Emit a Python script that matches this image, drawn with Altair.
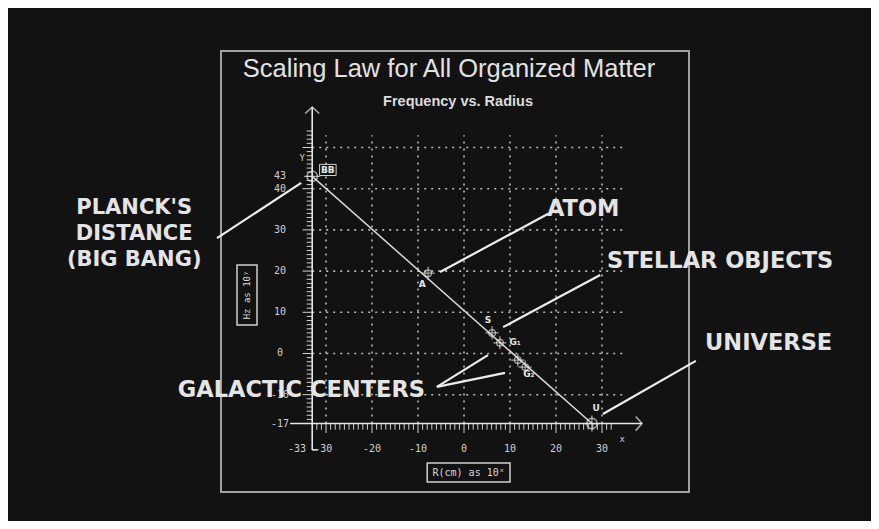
import altair as alt
import pandas as pd

# ---------------- values ----------------
point_names = ["BB", "A", "S", "G1", "G2a", "G2b", "U"]
point_x = [-33, -7.8, 6.1, 7.8, 11.7, 13.3, 27.8]
point_y = [43, 19.5, 5.0, 2.6, -1.6, -3.3, -17]
point_major = [True, False, False, False, False, False, True]

label_text = ["BB", "A", "S", "G₁", "G₂", "U"]

trend_x = [-33, 27.8]
trend_y = [43, -17]

y_tick_labels = ["43", "40", "30", "20", "10", "0", "-10", "-17"]
y_tick_values = [43, 40, 30, 20, 10, 0, -10, -17]
x_tick_labels = ["-33", "-30", "-20", "-10", "0", "10", "20", "30"]
x_tick_values = [-33, -30, -20, -10, 0, 10, 20, 30]

grid_x_values = [-30, -20, -10, 0, 10, 20, 30]
grid_y_values = [-10, 0, 10, 20, 30, 40, 50]

annotation_text = ["PLANCK'S", "DISTANCE", "(BIG BANG)", "ATOM",
                   "STELLAR OBJECTS", "UNIVERSE", "GALACTIC CENTERS"]

title_text = "Scaling Law for All Organized Matter"
subtitle_text = "Frequency vs. Radius"
x_title_text = "R(cm) as 10ˣ"
y_title_text = "Hz as 10ʸ"

# ---------------- layout (positions in data units) ----------------
label_x = [-29.6, -9.1, 5.2, 11.1, 14.1, 28.7]
label_y = [44.5, 16.9, 8.1, 2.8, -5.0, -13.2]
x_label_pos = [-36.3, -30.6, -20, -10, 0, 10, 20, 30]
x_label_y = -23.2
y_label_x = -40.0

ann_x = [-71.7, -71.7, -71.7, 25.9, 31.1, 52.4, -8.5]
ann_y = [35.3, 29.0, 22.6, 35.1, 22.45, 2.55, -8.86]
ann_align = ["center", "center", "center", "center", "left", "left", "right"]
ann_group = ["planck", "planck", "planck", "other", "other", "other", "other"]

leader = pd.DataFrame({
    "x": [-53.7, -5.2, 8.5, -5.9, -5.9, 30.2],
    "y": [28.0, 19.8, 6.4, -8.1, -8.1, -14.7],
    "x2": [-35.4, 18.3, 29.6, 5.2, 8.9, 50.4],
    "y2": [41.4, 33.9, 19.05, -0.4, -4.7, -1.8],
})

XS = alt.Scale(domain=[-52.83, 48.91], nice=False, zero=False)
YS = alt.Scale(domain=[-33.62, 73.42], nice=False, zero=False)
GRID = "#b8b8b8"
INK = "#e6e6e6"


def X(f="x"):
    return alt.X(f"{f}:Q", scale=XS, axis=None)


def Y(f="y"):
    return alt.Y(f"{f}:Q", scale=YS, axis=None)


# grid
gv = pd.DataFrame({"x": grid_x_values, "y": -17, "y2": 53})
gh = pd.DataFrame({"y": grid_y_values, "x": -33, "x2": 35})
grid_v = alt.Chart(gv).mark_rule(color=GRID, strokeWidth=1.6, strokeDash=[2, 5]).encode(
    x=X(), y=Y(), y2="y2:Q")
grid_h = alt.Chart(gh).mark_rule(color=GRID, strokeWidth=1.6, strokeDash=[2, 5]).encode(
    y=Y(), x=X(), x2="x2:Q")

# axis lines
axes_df = pd.DataFrame({
    "x": [-33, -37.8, -33],
    "y": [-23.4, -17, -23.4],
    "x2": [-33, 38.7, -31.8],
    "y2": [59.8, -17, -23.4],
})
axes = alt.Chart(axes_df).mark_rule(color=INK, strokeWidth=1.6).encode(
    x=X(), y=Y(), x2="x2:Q", y2="y2:Q")

# minor / major ticks
yt = pd.DataFrame({"y": list(range(-16, 55))})
yt["x"] = -33
yt["x2"] = [-35.1 if v % 10 == 0 else -34.2 for v in yt["y"]]
yticks = alt.Chart(yt).mark_rule(color="#d0d0d0", strokeWidth=1).encode(
    y=Y(), x=X(), x2="x2:Q")
xt = pd.DataFrame({"x": list(range(-32, 33))})
xt["y"] = -17
xt["y2"] = [-19.3 if v % 10 == 0 else -18.5 for v in xt["x"]]
xticks = alt.Chart(xt).mark_rule(color="#d0d0d0", strokeWidth=1).encode(
    x=X(), y=Y(), y2="y2:Q")

# arrow heads
arr_up = alt.Chart(pd.DataFrame({"x": [-33], "y": [59.8]})).mark_point(
    shape="M-1,0.9L0,0L1,0.9", size=200, filled=False, color=INK, strokeWidth=1.6
).encode(x=X(), y=Y())
arr_right = alt.Chart(pd.DataFrame({"x": [38.7], "y": [-17]})).mark_point(
    shape="M-0.9,-1L0,0L-0.9,1", size=200, filled=False, color=INK, strokeWidth=1.6
).encode(x=X(), y=Y())

# axis letters
axis_letters = alt.Chart(pd.DataFrame({"t": ["Y", "x"], "x": [-35.2, 34.4], "y": [47.4, -20.8]})).mark_text(
    font="DejaVu Sans Mono", fontSize=9, color="#cfcfcf").encode(x=X(), y=Y(), text="t:N")

# trend line
trend = alt.Chart(pd.DataFrame({"x": trend_x, "y": trend_y})).mark_line(
    color="#d8d8d8", strokeWidth=1.5).encode(x=X(), y=Y())

pts = pd.DataFrame({"name": point_names, "x": point_x, "y": point_y, "major": point_major})
big = pts[pts["major"]]
small = pts[~pts["major"]]
circ_big = alt.Chart(big).mark_point(shape="circle", size=110, filled=False, color=INK,
                                     strokeWidth=1.4).encode(x=X(), y=Y())
plus_big = alt.Chart(big).mark_point(shape="M-1,0L1,0M0,-1L0,1", size=260, filled=False,
                                     color=INK, strokeWidth=1.3).encode(x=X(), y=Y())
circ_small = alt.Chart(small).mark_point(shape="circle", size=45, filled=False, color=INK,
                                         strokeWidth=1.2).encode(x=X(), y=Y())
plus_small = alt.Chart(small).mark_point(shape="M-1,0L1,0M0,-1L0,1", size=170, filled=False,
                                         color=INK, strokeWidth=1.2).encode(x=X(), y=Y())

labels = alt.Chart(pd.DataFrame({"t": label_text, "x": label_x, "y": label_y})).mark_text(
    font="DejaVu Sans", fontSize=9, fontWeight="bold", color=INK).encode(x=X(), y=Y(), text="t:N")
bb_box = alt.Chart(pd.DataFrame({"x": [-31.4], "x2": [-27.8], "y": [45.9], "y2": [43.2]})).mark_rect(
    fill=None, stroke="#cfcfcf", strokeWidth=1).encode(x=X(), x2="x2:Q", y=Y(), y2="y2:Q")

# tick labels
ytl = alt.Chart(pd.DataFrame({"t": y_tick_labels, "y": y_tick_values, "x": y_label_x})).mark_text(
    font="DejaVu Sans Mono", fontSize=10, color="#cfcfcf").encode(x=X(), y=Y(), text="t:N")
xtl = alt.Chart(pd.DataFrame({"t": x_tick_labels, "x": x_label_pos, "y": x_label_y})).mark_text(
    font="DejaVu Sans Mono", fontSize=10, color="#cfcfcf").encode(x=X(), y=Y(), text="t:N")

# axis title boxes
boxes = alt.Chart(pd.DataFrame({"x": [-8.0, -49.35], "x2": [10.0, -45.0],
                                "y": [-26.6, 21.5], "y2": [-31.2, 6.9]})).mark_rect(
    fill=None, stroke="#cfcfcf", strokeWidth=1.5).encode(x=X(), x2="x2:Q", y=Y(), y2="y2:Q")
xtitle = alt.Chart(pd.DataFrame({"t": [x_title_text], "x": [1.0], "y": [-28.9]})).mark_text(
    font="DejaVu Sans Mono", fontSize=10, color="#d8d8d8").encode(x=X(), y=Y(), text="t:N")
ytitle = alt.Chart(pd.DataFrame({"t": [y_title_text], "x": [-47.2], "y": [14.2]})).mark_text(
    font="DejaVu Sans Mono", fontSize=9, angle=270, color="#d8d8d8").encode(x=X(), y=Y(), text="t:N")

# annotations
leaders = alt.Chart(leader).mark_rule(color="#eeeeee", strokeWidth=2.2).encode(
    x=X(), y=Y(), x2="x2:Q", y2="y2:Q")
ann_df = pd.DataFrame({"t": annotation_text, "x": ann_x, "y": ann_y, "a": ann_align,
                       "g": ann_group})
ann_layers = []
for g, fs in [("planck", 21), ("other", 22.5)]:
    for a in ["center", "left", "right"]:
        sub = ann_df[(ann_df["a"] == a) & (ann_df["g"] == g)]
        if len(sub) == 0:
            continue
        ann_layers.append(
            alt.Chart(sub).mark_text(
                font="DejaVu Sans", fontSize=fs, fontWeight="bold", color="#e4e4e4",
                align=a, baseline="middle").encode(x=X(), y=Y(), text="t:N"))

title = alt.Chart(pd.DataFrame({"t": [title_text]})).mark_text(
    font="Liberation Sans", fontSize=25.5, color="#e2e2e2").encode(
    x=alt.value(228), y=alt.value(18), text="t:N")
subtitle = alt.Chart(pd.DataFrame({"t": [subtitle_text]})).mark_text(
    font="Liberation Sans", fontSize=14.5, fontWeight="bold", color="#dcdcdc").encode(
    x=alt.value(237), y=alt.value(51), text="t:N")

chart = alt.layer(
    grid_v, grid_h, yticks, xticks, axes, arr_up, arr_right, axis_letters, trend,
    circ_big, plus_big, circ_small, plus_small, bb_box, labels, ytl, xtl, boxes,
    xtitle, ytitle, leaders, *ann_layers, title, subtitle
).properties(
    width=468, height=441,
    padding={"left": 213, "top": 43, "right": 182, "bottom": 29},
    autosize=alt.AutoSizeParams(type="none"),
    background="#121212",
).configure_view(stroke="#a0a0a0", strokeWidth=2)

chart.save("out.html", embed_options={"renderer": "svg", "actions": False})
